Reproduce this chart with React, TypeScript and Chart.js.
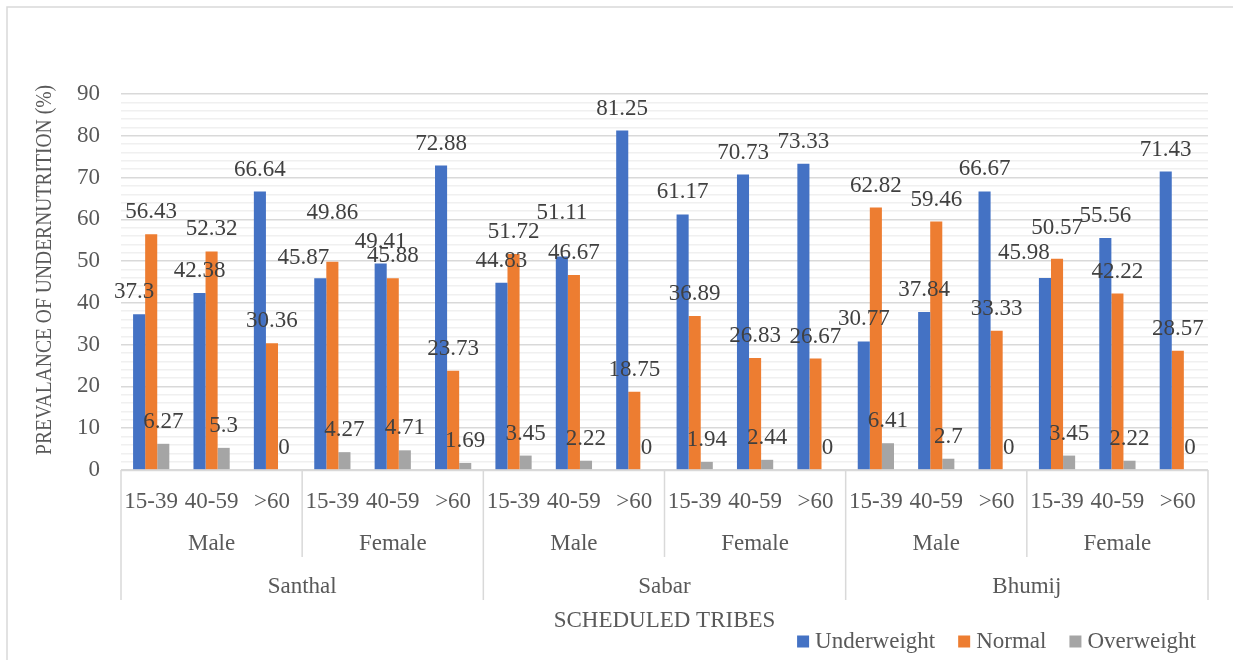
import React, { useEffect, useRef } from 'react';
import { Chart, registerables } from 'chart.js';

Chart.register(...registerables);

const ageGroups = [
  '15-39', '40-59', '>60', '15-39', '40-59', '>60',
  '15-39', '40-59', '>60', '15-39', '40-59', '>60',
  '15-39', '40-59', '>60', '15-39', '40-59', '>60',
];
const sexGroups = ['Male', 'Female', 'Male', 'Female', 'Male', 'Female'];
const tribes = ['Santhal', 'Sabar', 'Bhumij'];

const underweight = [37.3, 42.38, 66.64, 45.87, 49.41, 72.88, 44.83, 51.11, 81.25, 61.17, 70.73, 73.33, 30.77, 37.84, 66.67, 45.98, 55.56, 71.43];
const normal = [56.43, 52.32, 30.36, 49.86, 45.88, 23.73, 51.72, 46.67, 18.75, 36.89, 26.83, 26.67, 62.82, 59.46, 33.33, 50.57, 42.22, 28.57];
const overweight = [6.27, 5.3, 0, 4.27, 4.71, 1.69, 3.45, 2.22, 0, 1.94, 2.44, 0, 6.41, 2.7, 0, 3.45, 2.22, 0];

const seriesNames = ['Underweight', 'Normal', 'Overweight'];
const seriesColors = ['#4472C4', '#ED7D31', '#A5A5A5'];

const yMin = 0;
const yMax = 90;
const yMajorStep = 10;
const yMinorStep = 2;

const xTitle = 'SCHEDULED TRIBES';
const yTitle = 'PREVALANCE OF UNDERNUTRITION (%)';

// hand-moved data labels in the original (series index, category index, dx, dy in px)
const labelNudges: [number, number, number, number][] = [
  [0, 0, -5, 0],
  [0, 3, -17, 2],
  [1, 3, 0, -27],
  [0, 7, 0, -21],
  [0, 15, -21, -3],
  [1, 15, 0, -9],
];

const FONT = '"Liberation Serif", "Times New Roman", serif';
const AXIS_TEXT = '#595959';
const LABEL_TEXT = '#404040';
const LINE = '#D9D9D9';

const customPlugin = {
  id: 'customDraw',
  afterDatasetsDraw(chart: any) {
    const ctx = chart.ctx;
    ctx.save();
    ctx.font = `23px ${FONT}`;
    ctx.fillStyle = LABEL_TEXT;
    ctx.textAlign = 'center';
    ctx.textBaseline = 'alphabetic';
    chart.data.datasets.forEach((ds: any, di: number) => {
      const meta = chart.getDatasetMeta(di);
      meta.data.forEach((el: any, i: number) => {
        const n = labelNudges.find((t) => t[0] === di && t[1] === i);
        const dx = n ? n[2] : 0;
        const dy = n ? n[3] : 0;
        ctx.fillText(String(ds.data[i]), el.x + dx, el.y - 16 + dy);
      });
    });
    ctx.restore();
  },
  afterDraw(chart: any) {
    const ctx = chart.ctx;
    const area = chart.chartArea;
    const xs = chart.scales.x;
    const px = (i: number) => xs.getPixelForValue(i);
    const boundary = (i: number) => {
      if (i <= 0) return area.left;
      if (i >= ageGroups.length) return area.right;
      return (px(i - 1) + px(i)) / 2;
    };
    ctx.save();

    // outer border
    ctx.strokeStyle = LINE;
    ctx.lineWidth = 1.5;
    ctx.strokeRect(7, 7, 1300, 700);

    // multi-level axis lines
    const base = area.bottom;
    ctx.beginPath();
    ctx.moveTo(area.left, base + 0.5);
    ctx.lineTo(area.right, base + 0.5);
    for (let i = 0; i <= ageGroups.length; i += 3) {
      const x = boundary(i);
      const isTribe = i % 6 === 0;
      ctx.moveTo(x, base);
      ctx.lineTo(x, isTribe ? 600 : 557);
    }
    ctx.stroke();

    ctx.fillStyle = AXIS_TEXT;
    ctx.font = `23px ${FONT}`;
    ctx.textAlign = 'center';
    ctx.textBaseline = 'alphabetic';
    ageGroups.forEach((a, i) => ctx.fillText(a, px(i), 508));
    sexGroups.forEach((s, k) => ctx.fillText(s, px(k * 3 + 1), 550));
    tribes.forEach((t, k) => ctx.fillText(t, boundary(k * 6 + 3), 593));
    ctx.fillText(xTitle, (area.left + area.right) / 2, 627);

    // y title (slightly condensed as in the original)
    ctx.save();
    ctx.translate(51, 270);
    ctx.rotate(-Math.PI / 2);
    ctx.font = `23px ${FONT}`;
    const w = ctx.measureText(yTitle).width;
    ctx.scale(370 / w, 1);
    ctx.textAlign = 'center';
    ctx.textBaseline = 'alphabetic';
    ctx.fillText(yTitle, 0, 0);
    ctx.restore();

    // legend
    ctx.font = `23px ${FONT}`;
    ctx.textAlign = 'left';
    const gap = 23;
    const widths = seriesNames.map((n) => 12 + 6 + ctx.measureText(n).width);
    const total = widths.reduce((a, b) => a + b, 0) + gap * (seriesNames.length - 1);
    let lx = 1196 - total;
    seriesNames.forEach((n, i) => {
      ctx.fillStyle = seriesColors[i];
      ctx.fillRect(lx, 635.5, 12, 12);
      ctx.fillStyle = AXIS_TEXT;
      ctx.fillText(n, lx + 18, 648);
      lx += widths[i] + gap;
    });

    ctx.restore();
  },
};

export default function App() {
  const ref = useRef<HTMLCanvasElement>(null);
  useEffect(() => {
    if (!ref.current) return;
    const data = [underweight, normal, overweight];
    const chart = new Chart(ref.current, {
      type: 'bar',
      data: {
        labels: ageGroups,
        datasets: seriesNames.map((name, i) => ({
          label: name,
          data: data[i],
          backgroundColor: seriesColors[i],
          borderWidth: 0,
          categoryPercentage: 0.6,
          barPercentage: 1.0,
        })),
      },
      options: {
        responsive: false,
        animation: false,
        layout: { padding: { top: 94, right: 25, bottom: 190, left: 0 } },
        plugins: {
          legend: { display: false },
          title: { display: false },
          tooltip: { enabled: false },
        },
        scales: {
          x: { display: false, offset: true },
          y: {
            min: yMin,
            max: yMax,
            afterFit: (s: any) => {
              s.width = 121;
            },
            border: { display: false },
            grid: {
              drawTicks: false,
              lineWidth: 1.5,
              color: (c: any) => (c.tick && c.tick.value % yMajorStep === 0 ? '#D9D9D9' : '#F0F0F0'),
            },
            ticks: {
              stepSize: yMinorStep,
              autoSkip: false,
              padding: 21,
              color: AXIS_TEXT,
              font: { family: FONT, size: 23 },
              callback: (v: any) => (Number(v) % yMajorStep === 0 ? String(v) : ''),
            },
          },
        },
      },
      plugins: [customPlugin],
    });
    return () => chart.destroy();
  }, []);
  return (
    <div style={{ position: 'fixed', left: 0, top: 0, width: 1233, height: 660, background: '#fff' }}>
      <canvas ref={ref} width={1233} height={660} style={{ display: 'block' }} />
    </div>
  );
}
